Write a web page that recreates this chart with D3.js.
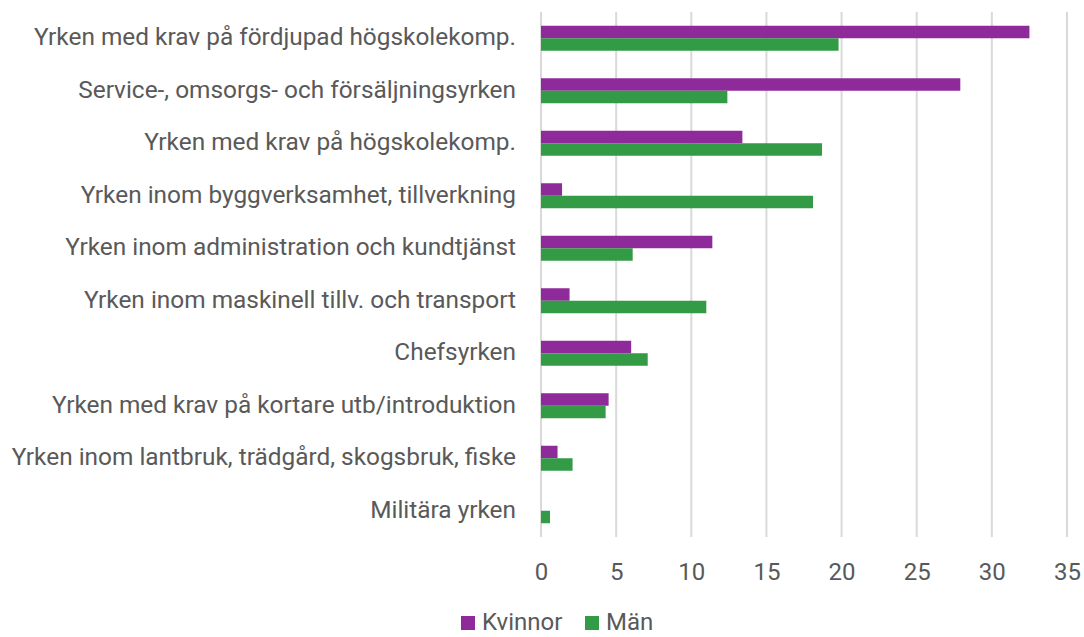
<!DOCTYPE html>
<html><head><meta charset="utf-8">
<script src="https://cdn.jsdelivr.net/npm/d3@7"></script>
<style>body{margin:0;background:#fff;}svg{display:block;font-family:Roboto,sans-serif;}</style>
</head><body>
<script>
const categories = [
  "Yrken med krav på fördjupad högskolekomp.",
  "Service-, omsorgs- och försäljningsyrken",
  "Yrken med krav på högskolekomp.",
  "Yrken inom byggverksamhet, tillverkning",
  "Yrken inom administration och kundtjänst",
  "Yrken inom maskinell tillv. och transport",
  "Chefsyrken",
  "Yrken med krav på kortare utb/introduktion",
  "Yrken inom lantbruk, trädgård, skogsbruk, fiske",
  "Militära yrken"
];
const kvinnor = [32.5, 27.9, 13.4, 1.4, 11.4, 1.9, 6.0, 4.5, 1.1, 0];
const man = [19.8, 12.4, 18.7, 18.1, 6.1, 11.0, 7.1, 4.3, 2.1, 0.6];
const seriesNames = ["Kvinnor", "Män"];
const xTicks = [0, 5, 10, 15, 20, 25, 30, 35];
const colors = ["#8e2a99", "#339b45"];

const W = 1084, H = 637;
const svg = d3.select("body").append("svg").attr("width", W).attr("height", H);
const x = d3.scaleLinear().domain([0, 35]).range([541, 1067]);
const y = d3.scaleBand().domain(categories).range([12, 537]).paddingInner(0.524).paddingOuter(0.262);
const sub = d3.scaleBand().domain(seriesNames).range([0, y.bandwidth()]);

// gridlines
svg.append("g").selectAll("line").data(xTicks).join("line")
  .attr("x1", d => x(d)).attr("x2", d => x(d))
  .attr("y1", 12).attr("y2", 537)
  .attr("stroke", "#d9d9d9").attr("stroke-width", 2);

const data = [kvinnor, man];
data.forEach((vals, si) => {
  svg.append("g").selectAll("rect").data(vals).join("rect")
    .attr("x", x(0))
    .attr("y", (d, i) => y(categories[i]) + sub(seriesNames[si]))
    .attr("width", d => x(d) - x(0))
    .attr("height", sub.bandwidth())
    .attr("fill", colors[si]);
});

// category labels
svg.append("g").selectAll("text").data(categories).join("text")
  .attr("x", 516).attr("y", d => y(d) + y.bandwidth() / 2 + 7)
  .attr("text-anchor", "end")
  .attr("fill", "#595959").attr("font-size", 24.4).text(d => d);

// x axis labels
const xAxis = d3.axisBottom(x).tickValues(xTicks).tickSize(0).tickPadding(0);
const gx = svg.append("g").call(xAxis);
gx.select(".domain").remove();
gx.selectAll("text").attr("font-size", 24).attr("fill", "#595959")
  .attr("font-family", "Roboto, sans-serif").attr("dy", null).attr("y", 580);

// legend
const leg = svg.append("g");
const legItems = [{n: "Kvinnor", c: colors[0], x: 461}, {n: "Män", c: colors[1], x: 585}];
legItems.forEach(it => {
  leg.append("rect").attr("x", it.x).attr("y", 616).attr("width", 14).attr("height", 14).attr("fill", it.c);
  leg.append("text").attr("x", it.x + 21).attr("y", 630)
    .attr("font-size", 24).attr("fill", "#595959").text(it.n);
});
</script>
</body></html>
